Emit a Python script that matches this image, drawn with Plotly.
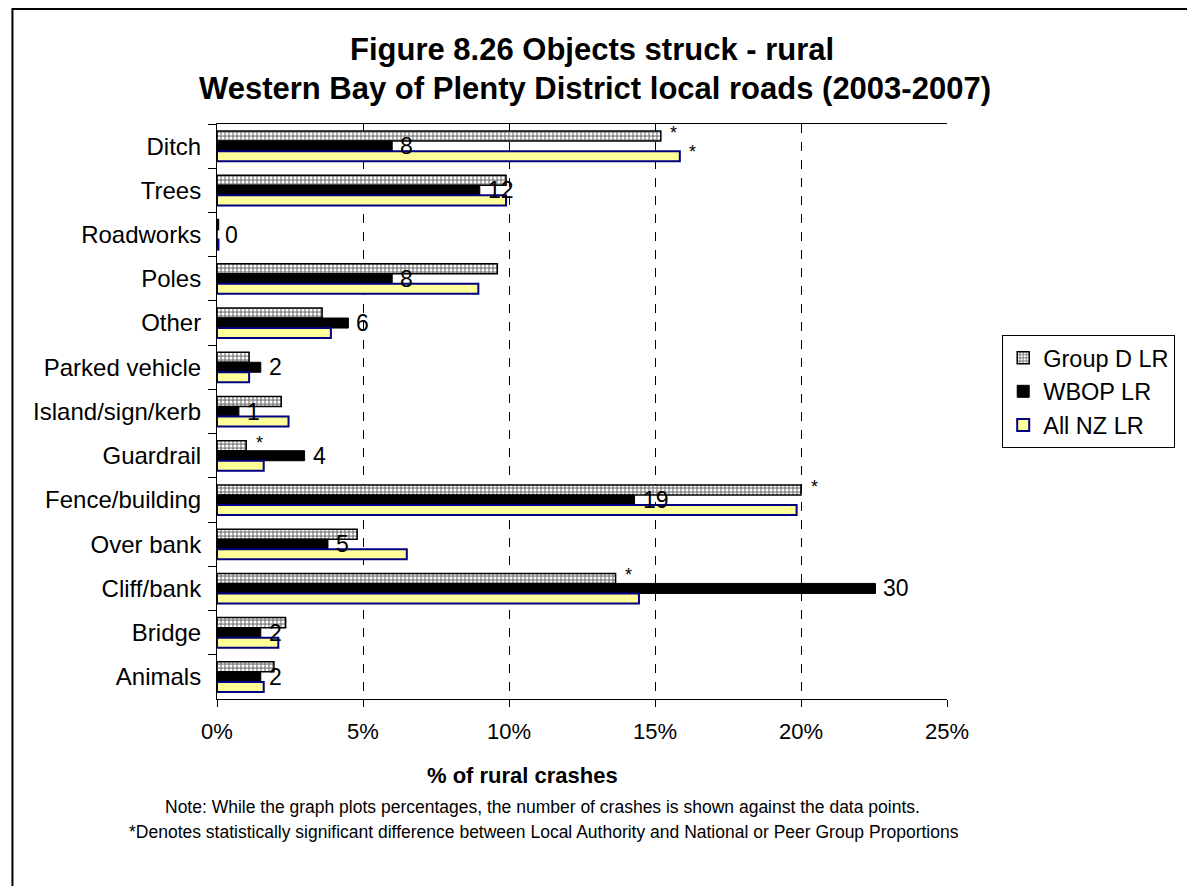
import plotly.graph_objects as go

categories = ["Ditch", "Trees", "Roadworks", "Poles", "Other", "Parked vehicle",
              "Island/sign/kerb", "Guardrail", "Fence/building", "Over bank",
              "Cliff/bank", "Bridge", "Animals"]
group_d = [15.2, 9.9, 0.05, 9.6, 3.6, 1.1, 2.2, 1.0, 20.0, 4.8, 13.65, 2.35, 1.95]
wbop = [6.0, 9.0, 0.0, 6.0, 4.5, 1.5, 0.75, 3.0, 14.3, 3.8, 22.55, 1.5, 1.5]
wbop_counts = [8, 12, 0, 8, 6, 2, 1, 4, 19, 5, 30, 2, 2]
all_nz = [15.85, 9.9, 0.05, 8.95, 3.9, 1.1, 2.45, 1.6, 19.85, 6.5, 14.45, 2.1, 1.6]
sig_group_d = ["Ditch", "Guardrail", "Fence/building", "Cliff/bank"]
sig_all_nz = ["Ditch", "Cliff/bank"]
x_ticks = [0, 5, 10, 15, 20, 25]

FONT = "Liberation Sans, Arial, sans-serif"
OFF = 8  # page body margin of the html output
W, H = 1195 - 2 * OFF, 894 - 2 * OFF
# plot area in page pixel coordinates
L, R, T, B = 216.5, 957.0, 124.0, 699.0


def px(x):
    return (x - L) / (R - L)


def py(y):
    return (B - y) / (B - T)


fig = go.Figure()
fig.add_trace(go.Bar(
    y=categories, x=group_d, orientation="h", name="Group D LR",
    marker=dict(color="#a0a0a0", line=dict(color="black", width=1.5),
                pattern=dict(shape=".", fgcolor="white", bgcolor="#8a8a8a",
                             size=4, solidity=0.45, fillmode="replace")),
))
fig.add_trace(go.Bar(
    y=categories, x=wbop, orientation="h", name="WBOP LR",
    marker=dict(color="black", line=dict(color="black", width=1)),
))
fig.add_trace(go.Bar(
    y=categories, x=all_nz, orientation="h", name="All NZ LR",
    marker=dict(color="#FFFF99", line=dict(color="#000080", width=2)),
))

annotations = []
for c, v, n in zip(categories, wbop, wbop_counts):
    annotations.append(dict(x=v, y=c, xref="x", yref="y", text=str(n),
                            showarrow=False, xanchor="left", yanchor="middle",
                            xshift=6, font=dict(family=FONT, size=23, color="black")))
for c in sig_group_d:
    v = group_d[categories.index(c)]
    annotations.append(dict(x=v, y=c, xref="x", yref="y", text="*",
                            showarrow=False, xanchor="center", yanchor="middle",
                            xshift=13, yshift=13,
                            font=dict(family=FONT, size=18, color="black")))
for c in sig_all_nz:
    v = all_nz[categories.index(c)]
    annotations.append(dict(x=v, y=c, xref="x", yref="y", text="*",
                            showarrow=False, xanchor="center", yanchor="middle",
                            xshift=13, yshift=-6,
                            font=dict(family=FONT, size=18, color="black")))

# titles and notes
annotations += [
    dict(x=px(597), y=py(50), xref="paper", yref="paper", showarrow=False,
         text="<b>Figure 8.26 Objects struck - rural</b>", xanchor="center",
         yanchor="middle", font=dict(family=FONT, size=31, color="black")),
    dict(x=px(600), y=py(88), xref="paper", yref="paper", showarrow=False,
         text="<b>Western Bay of Plenty District local roads (2003-2007)</b>",
         xanchor="center", yanchor="middle",
         font=dict(family=FONT, size=31, color="black")),
    dict(x=px(526), y=py(775), xref="paper", yref="paper", showarrow=False,
         text="<b>% of rural crashes</b>", xanchor="center", yanchor="middle",
         font=dict(family=FONT, size=22, color="black")),
    dict(x=px(547), y=py(807), xref="paper", yref="paper", showarrow=False,
         text="Note: While the graph plots percentages, the number of crashes is shown against the data points.",
         xanchor="center", yanchor="middle",
         font=dict(family=FONT, size=17.5, color="black")),
    dict(x=px(548), y=py(832), xref="paper", yref="paper", showarrow=False,
         text="*Denotes statistically significant difference between Local Authority and National or Peer Group Proportions",
         xanchor="center", yanchor="middle",
         font=dict(family=FONT, size=17.5, color="black")),
]

fig.update_layout(
    width=W, height=H,
    margin=dict(l=L - OFF, r=W + OFF - R, t=T - OFF, b=H + OFF - B, pad=0),
    paper_bgcolor="white", plot_bgcolor="white",
    barmode="group", bargap=0.32, bargroupgap=0,
    font=dict(family=FONT, size=22, color="black"),
    showlegend=True,
    legend=dict(x=px(1013), y=py(335), xanchor="left", yanchor="top",
                bordercolor="black", borderwidth=1, bgcolor="white",
                font=dict(family=FONT, size=23.5, color="black"),
                traceorder="normal"),
    annotations=annotations,
    shapes=[dict(type="rect", xref="paper", yref="paper",
                 x0=px(OFF + 1), x1=px(1230), y0=py(930), y1=py(OFF + 1),
                 line=dict(color="black", width=2), layer="below")],
)
fig.update_xaxes(
    range=[0, 25], tickvals=x_ticks, ticktext=[f"{t}%" for t in x_ticks],
    showgrid=True, gridcolor="black", griddash="dash", gridwidth=1,
    showline=True, linecolor="black", linewidth=1, mirror=True,
    ticks="outside", ticklen=7, tickcolor="black", zeroline=False,
    ticklabelstandoff=6,
    tickfont=dict(family=FONT, size=22, color="black"),
)
fig.update_yaxes(
    type="category", categoryorder="array", categoryarray=categories,
    autorange="reversed", showgrid=False, showline=True, linecolor="black",
    linewidth=1, ticks="outside", ticklen=8, tickcolor="black",
    tickson="boundaries", zeroline=False, ticklabelstandoff=10,
    tickfont=dict(family=FONT, size=24, color="black"),
)

fig.write_html("out.html")
